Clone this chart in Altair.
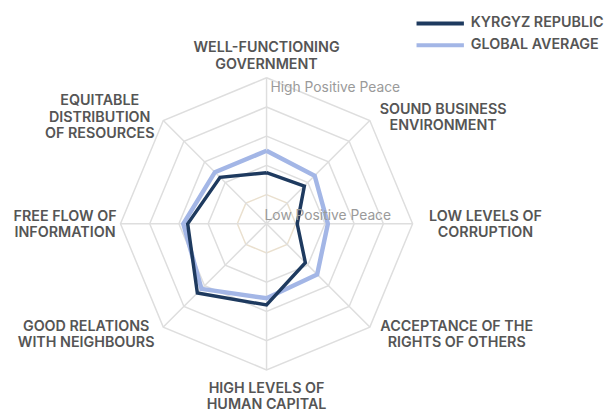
import altair as alt
import pandas as pd

# ---- data ----
categories = [
    "WELL-FUNCTIONING\nGOVERNMENT",
    "SOUND BUSINESS\nENVIRONMENT",
    "LOW LEVELS OF\nCORRUPTION",
    "ACCEPTANCE OF THE\nRIGHTS OF OTHERS",
    "HIGH LEVELS OF\nHUMAN CAPITAL",
    "GOOD RELATIONS\nWITH NEIGHBOURS",
    "FREE FLOW OF\nINFORMATION",
    "EQUITABLE\nDISTRIBUTION\nOF RESOURCES",
]
kyrgyz = [1.75, 1.83, 1.05, 1.88, 2.78, 3.35, 2.70, 2.25]
global_avg = [2.50, 2.33, 2.10, 2.45, 2.55, 3.15, 2.85, 2.50]
series_names = ["KYRGYZ REPUBLIC", "GLOBAL AVERAGE"]
series_colors = ["#1e3a5f", "#a3b6e6"]
ring_levels = [1, 2, 3, 4, 5]
scale_max = 5
annotations = ["High Positive Peace", "Low Positive Peace"]

# ---- layout ----
W, H = 606, 403
CX, CY = 262, 216
R = 148
PPU = R / scale_max  # pixels per score unit
N = len(categories)
FONT = "Inter"
LAB_SIZE = 14.5
LH = 16.7

xs = alt.Scale(domain=[-CX / PPU, (W - CX) / PPU], nice=False, zero=False)
ys = alt.Scale(domain=[-(H - CY) / PPU, CY / PPU], nice=False, zero=False)
noax = None

ang = f"datum.idx * 2 * PI / {N}"

# series table
rows = []
for name, vals in [(series_names[1], global_avg), (series_names[0], kyrgyz)]:
    for i in range(N + 1):
        rows.append({"series": name, "idx": i, "value": vals[i % N]})
series_df = pd.DataFrame(rows)

# grid
grid_df = pd.DataFrame([{"level": lv, "idx": i} for lv in ring_levels for i in range(N + 1)])
spoke_df = pd.DataFrame({"idx": list(range(N)), "level": [scale_max] * N})

# labels
lab_df = pd.DataFrame({
    "idx": list(range(N)),
    "label": categories,
    "halfw": [max(len(s) for s in c.split("\n")) * 4.6 for c in categories],
    "nlines": [len(c.split("\n")) for c in categories],
})

ann_df = pd.DataFrame({"text": annotations, "level": [scale_max, 0], "idx": [0, 0]})

color_scale = alt.Scale(domain=series_names, range=series_colors)

grid = alt.Chart(grid_df).transform_calculate(
    x=f"datum.level * sin({ang})", y=f"datum.level * cos({ang})"
).mark_line(strokeWidth=1.5).encode(
    x=alt.X("x:Q", scale=xs, axis=noax),
    y=alt.Y("y:Q", scale=ys, axis=noax),
    detail="level:N",
    order="idx:Q",
    color=alt.condition(alt.datum.level == 1, alt.value("#eae0cf"), alt.value("#dedede")),
)

spokes = alt.Chart(spoke_df).transform_calculate(
    x0="0", y0="0",
    x=f"datum.level * sin({ang})", y=f"datum.level * cos({ang})"
).mark_rule(strokeWidth=1.5, color="#dedede").encode(
    x=alt.X("x0:Q", scale=xs, axis=noax),
    y=alt.Y("y0:Q", scale=ys, axis=noax),
    x2="x:Q", y2="y:Q",
)

def series_layer(name, width):
    return alt.Chart(series_df).transform_filter(
        alt.datum.series == name
    ).transform_calculate(
        x=f"datum.value * sin({ang})", y=f"datum.value * cos({ang})"
    ).mark_line(strokeWidth=width, strokeJoin="miter").encode(
        x=alt.X("x:Q", scale=xs, axis=noax),
        y=alt.Y("y:Q", scale=ys, axis=noax),
        order="idx:Q",
        color=alt.Color(
            "series:N", scale=color_scale, title=None,
            legend=alt.Legend(
                orient="none", legendX=412, legendY=2,
                symbolType="stroke", symbolSize=2304, symbolStrokeWidth=4,
                clipHeight=22, labelFont=FONT, labelFontWeight=600,
                labelFontSize=14.5, labelColor="#555555", labelOffset=5,
                padding=0, rowPadding=0, labelLimit=400,
            ),
        ),
    )

glob = series_layer(series_names[1], 4.5)
kgz = series_layer(series_names[0], 3.5)

labels = alt.Chart(lab_df).transform_calculate(
    s=f"sin({ang})", c=f"cos({ang})"
).transform_calculate(
    sg="abs(datum.s) < 0.1 ? 0 : (datum.s > 0 ? 1 : -1)",
    gap="datum.s > 0.1 ? 14 : (datum.s < -0.1 ? (abs(datum.c) < 0.1 ? 1 : 13) : 6)",
    ex="abs(datum.s) < 0.1 ? (datum.c > 0 ? 17 : 20) : 0",
    low="datum.c < -0.1 && abs(datum.s) > 0.1 ? -2.5 : 0",
    corr=f"(datum.nlines - 1) * {LH / 2} - 1.5",
).transform_calculate(
    lx=f"(datum.s * ({R} + datum.gap) + datum.sg * datum.halfw) / {PPU}",
    ly=f"(datum.c * ({R} + 6) + datum.c * datum.ex + datum.corr + datum.low) / {PPU}",
).mark_text(
    lineBreak="\n", font=FONT, fontWeight=600, fontSize=LAB_SIZE,
    color="#555555", align="center", baseline="middle", lineHeight=LH,
).encode(
    x=alt.X("lx:Q", scale=xs, axis=noax),
    y=alt.Y("ly:Q", scale=ys, axis=noax),
    text="label:N",
)

ann = alt.Chart(ann_df).transform_calculate(
    x=f"datum.level * sin({ang}) + (datum.level > 0 ? 4 : -2) / {PPU}",
    y=f"datum.level * cos({ang}) + (datum.level > 0 ? -10 : 8) / {PPU}",
).mark_text(
    font=FONT, fontSize=14, color="#9a9a9a", align="left", baseline="middle",
).encode(
    x=alt.X("x:Q", scale=xs, axis=noax),
    y=alt.Y("y:Q", scale=ys, axis=noax),
    text="text:N",
)

chart = alt.layer(grid, spokes, glob, kgz, ann, labels).properties(
    width=W, height=H, padding=0,
    autosize=alt.AutoSizeParams(type="none"),
).configure_view(stroke=None)

chart.save("out.html", embed_options={"renderer": "svg", "actions": False})
